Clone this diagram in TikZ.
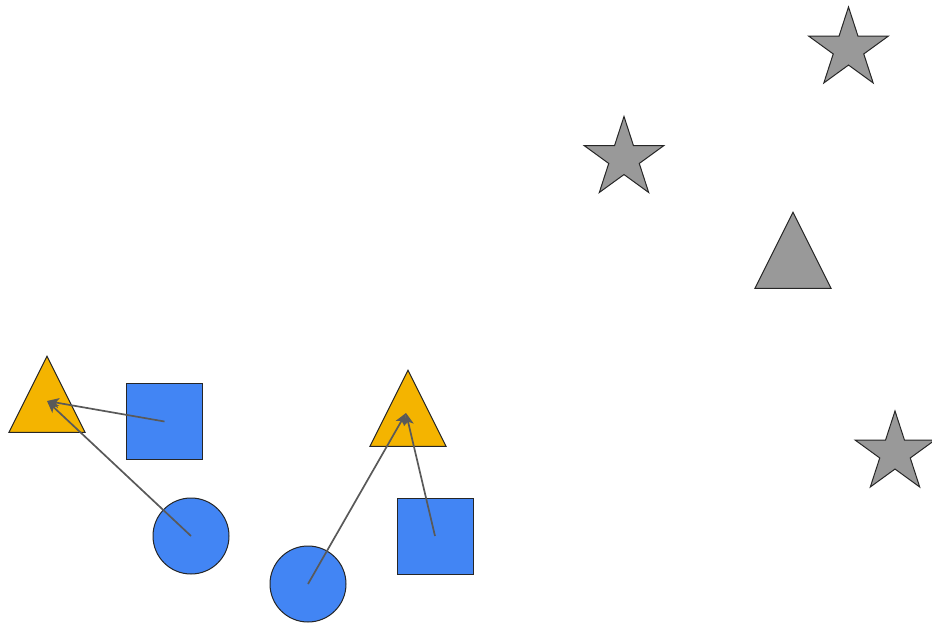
\documentclass[tikz,border=0pt]{standalone}
\usepackage{tikz}
\usetikzlibrary{arrows.meta}
\usetikzlibrary{calc}
\usetikzlibrary{shapes.geometric}
\definecolor{gblue}{RGB}{66,133,244}
\definecolor{gyellow}{RGB}{244,180,0}
\definecolor{ggray}{RGB}{153,153,153}
\definecolor{dgray}{RGB}{89,89,89}
\newcommand{\drawarrow}{\draw[dgray, line width=1.7pt, -{Stealth[length=12pt, width=10pt, inset=3pt]}]}
\tikzset{
    shapeline/.style={draw=black!85, line width=1pt, inner sep=0pt},
    bluesquare/.style={shapeline, fill=gblue, minimum size=76pt},
    bluecircle/.style={shapeline, circle, fill=gblue, minimum size=76pt},
    tri/.style={shapeline, isosceles triangle, shape border rotate=90,
        isosceles triangle stretches, minimum width=76pt, minimum height=76pt},
    graystar/.style={shapeline, star, star points=5, star point ratio=2.618,
        minimum size=84pt, fill=ggray},
}

\begin{document}
\begin{tikzpicture}[x=1pt, y=-1pt]
    \useasboundingbox (0,0) rectangle (932,623);

    % Draw shapes
    \node[tri, fill=gyellow, anchor=apex] (tri1) at (47,355) {};
    \node[tri, fill=gyellow, anchor=apex] (tri2) at (408,369) {};
    \node[tri, fill=ggray, anchor=apex] (tri3) at (793,211) {};
    \node[bluesquare] (sq1) at (164.5,421.5) {};
    \node[bluesquare] (sq2) at (435,536) {};
    \node[bluecircle] (c1) at (191,536) {};
    \node[bluecircle] (c2) at (308,584) {};
    \node[graystar] (st1) at (624,158.5) {};
    \node[graystar] (st2) at (848.5,49) {};
    \node[graystar] (st3) at (895,453) {};

    % Arrow targets
    \coordinate (t1) at ($(tri1.apex)+(0,46)$);
    \coordinate (t2) at ($(tri2.apex)+(-2,44)$);

    % Draw arrows
    \drawarrow (sq1.center) -- (t1);
    \drawarrow (c1.center) -- (t1);
    \drawarrow (c2.center) -- (t2);
    \drawarrow (sq2.center) -- (t2);
\end{tikzpicture}
\end{document}
